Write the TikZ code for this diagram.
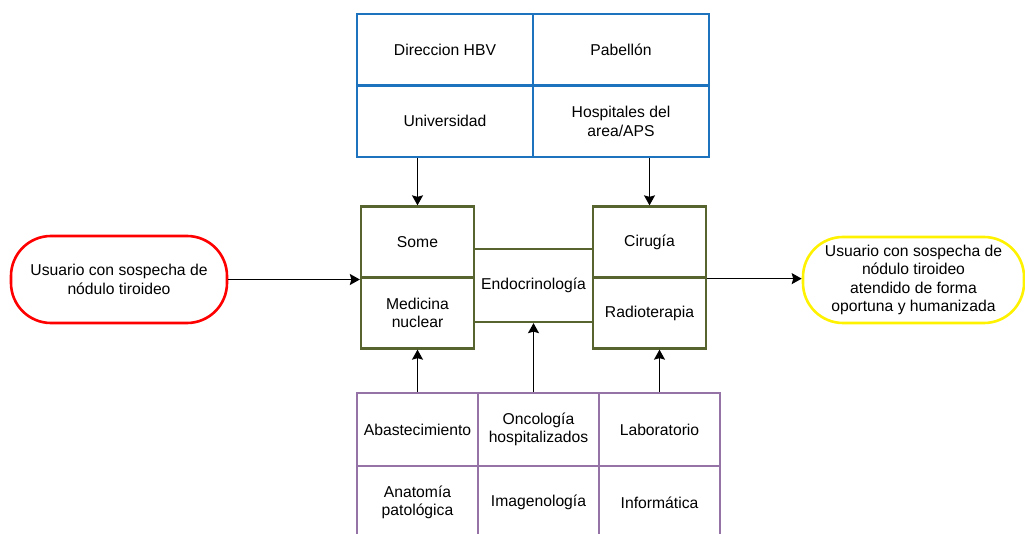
\documentclass[tikz,border=0pt]{standalone}
\usepackage{fontspec}
\setmainfont{Liberation Sans}
\usetikzlibrary{arrows.meta}
\definecolor{azul}{RGB}{30,115,190}
\definecolor{oliva}{RGB}{88,100,48}
\definecolor{lila}{RGB}{150,115,166}

\begin{document}
\begin{tikzpicture}[x=1pt,y=-1pt,
    font=\fontsize{15.7}{18.5}\selectfont,
    celdaazul/.style={draw=azul,line width=2.3pt,minimum width=176pt,minimum height=71.5pt,align=center},
    celdaoliva/.style={draw=oliva,line width=2.3pt,minimum width=113pt,minimum height=71pt,align=center},
    celdalila/.style={draw=lila,line width=2.3pt,minimum width=121pt,minimum height=73pt,align=center},
    terminal/.style={line width=2.6pt,rounded corners=40pt,minimum height=87pt,align=center},
    flecha/.style={line width=1.3pt,-{Stealth[inset=1.5pt,length=10pt,width=11pt]}}]
    \useasboundingbox (0,0) rectangle (1025,534);
    \clip (0,0) rectangle (1025,534);
    % apoyo superior
    \node[celdaazul] (direccion) at (445,49.75) {Direccion HBV};
    \node[celdaazul] (pabellon) at (621,49.75) {Pabellón};
    \node[celdaazul] (universidad) at (445,121.25) {Universidad};
    \node[celdaazul] (hospitales) at (621,121.25) {Hospitales del\\area/APS};
    % proceso central
    \node[celdaoliva] (some) at (417.5,242) {Some};
    \node[celdaoliva] (medicina) at (417.5,313) {Medicina\\nuclear};
    \node[celdaoliva,minimum width=119pt,minimum height=73pt] (endo) at (533.5,285.5) {Endocrinología};
    \node[celdaoliva] (cirugia) at (649.5,242) {Cirugía};
    \node[celdaoliva] (radio) at (649.5,313) {Radioterapia};
    % entrada y salida
    \node[terminal,draw=red,minimum width=216pt] (entrada) at (119,279.5) {Usuario con sospecha de\\nódulo tiroideo};
    \node[terminal,draw=yellow,minimum width=221pt,minimum height=86pt] (salida) at (913.5,280) {Usuario con sospecha de\\nódulo tiroideo\\atendido de forma\\oportuna y humanizada};
    % apoyo inferior
    \node[celdalila] (abast) at (417.5,429.5) {Abastecimiento};
    \node[celdalila] (onco) at (538.5,429.5) {Oncología\\hospitalizados};
    \node[celdalila] (lab) at (659.5,429.5) {Laboratorio};
    \node[celdalila] (anatomia) at (417.5,502.5) {Anatomía\\patológica};
    \node[celdalila] (imagen) at (538.5,502.5) {Imagenología};
    \node[celdalila] (info) at (659.5,502.5) {Informática};
    % conexiones
    \draw[flecha] (some.north |- universidad.south) -- (some.north);
    \draw[flecha] (cirugia.north |- hospitales.south) -- (cirugia.north);
    \draw[flecha] (entrada.east) -- (entrada.east -| some.west);
    \draw[flecha] (cirugia.south east) -- (cirugia.south east -| salida.west);
    \draw[flecha] (abast.north) -- (medicina.south);
    \draw[flecha] (endo.south |- onco.north) -- (endo.south);
    \draw[flecha] (lab.north) -- (lab.north |- radio.south);
  \end{tikzpicture}
\end{document}
